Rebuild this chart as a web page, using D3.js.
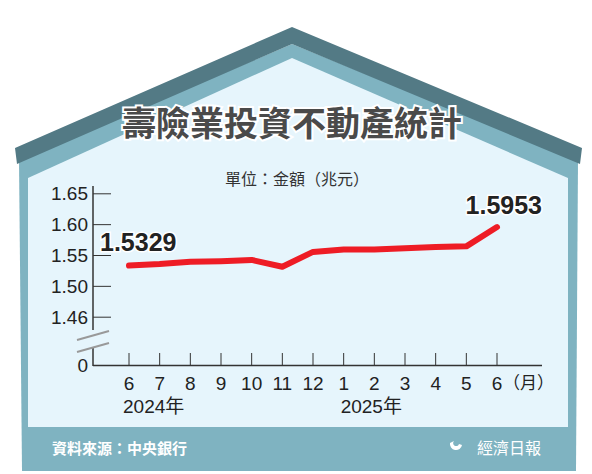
<!DOCTYPE html>
<html><head><meta charset="utf-8">
<script src="https://cdn.jsdelivr.net/npm/d3@7"></script>
<style>body{margin:0;background:#fff}text{font-family:"Liberation Sans","Noto Sans CJK TC",sans-serif}</style>
</head><body>
<script>
const months = ['6', '7', '8', '9', '10', '11', '12', '1', '2', '3', '4', '5', '6']
const values = [1.5329, 1.5353, 1.539, 1.540, 1.542, 1.531, 1.555, 1.559, 1.559, 1.561, 1.563, 1.564, 1.5953]
const tickVals = [1.45, 1.50, 1.55, 1.60, 1.65]
const tickLabels = ['1.46', '1.50', '1.55', '1.60', '1.65']

const svg = d3.select('body').append('svg').attr('width', 592).attr('height', 474)

// house
svg.append('polygon').attr('points', '19,160 292,44 578,160 576,471 22,471').attr('fill', '#7fb3c1')
svg.append('polygon').attr('points', '15,148 292,27 582,148 580,164 292,44 17,164').attr('fill', '#537a85')
svg.append('polygon').attr('points', '28,178 292,58 568,178 568,427 28,427').attr('fill', '#e6f5fc')

svg.append('text').attr('x', 292).attr('y', 136).attr('text-anchor', 'middle')
  .attr('font-size', 34).attr('font-weight', 'bold').attr('fill', '#4a4a4a')
  .attr('stroke', '#fff').attr('stroke-width', 4).attr('paint-order', 'stroke')
  .style('font-family', '"Noto Sans CJK TC"').text('壽險業投資不動產統計')
svg.append('text').attr('x', 297).attr('y', 185).attr('text-anchor', 'middle')
  .attr('font-size', 16).attr('fill', '#333').style('font-family', '"Noto Sans CJK TC"').text('單位：金額（兆元）')

const x = d3.scaleLinear().domain([0, months.length - 1]).range([129, 497])
const y = d3.scaleLinear().domain([1.45, 1.65]).range([316.7, 193.3])
const axisColor = '#333'

// y axis
const gy = svg.append('g').attr('transform', 'translate(93,0)')
gy.call(d3.axisRight(y).tickValues(tickVals).tickSize(18).tickFormat(''))
gy.select('.domain').remove()
gy.selectAll('line').attr('stroke', axisColor)
svg.append('line').attr('x1', 93).attr('x2', 93).attr('y1', 186).attr('y2', 366).attr('stroke', axisColor).attr('stroke-width', 1.5)
svg.selectAll('.ylab').data(tickVals).join('text').attr('class', 'ylab')
  .attr('x', 88).attr('y', d => y(d) + 7).attr('text-anchor', 'end')
  .attr('font-size', 19).attr('fill', '#222').text((d, i) => tickLabels[i])
svg.append('text').attr('x', 88).attr('y', 372).attr('text-anchor', 'end').attr('font-size', 19).attr('fill', '#222').text('0')
// axis break
svg.append('rect').attr('x', 85).attr('y', 330).attr('width', 16).attr('height', 18).attr('fill', '#e6f5fc')
;[0, 12].forEach(o => svg.append('line').attr('x1', 77).attr('x2', 109).attr('y1', 340 + o).attr('y2', 331 + o)
  .attr('stroke', '#999').attr('stroke-width', 2))

// x axis
svg.append('line').attr('x1', 93).attr('x2', 542).attr('y1', 365.5).attr('y2', 365.5).attr('stroke', axisColor).attr('stroke-width', 1.5)
svg.selectAll('.xt').data(months).join('line').attr('class', 'xt')
  .attr('x1', (d, i) => x(i)).attr('x2', (d, i) => x(i)).attr('y1', 353).attr('y2', 365).attr('stroke', axisColor)
svg.selectAll('.xl').data(months).join('text').attr('class', 'xl')
  .attr('x', (d, i) => x(i)).attr('y', 390).attr('text-anchor', 'middle')
  .attr('font-size', 19).attr('fill', '#222').text(d => d)
svg.append('text').attr('x', 503).attr('y', 389).attr('font-size', 17).attr('fill', '#222').style('font-family', '"Noto Sans CJK TC"').text('（月）')
svg.append('text').attr('x', x(0) - 6).attr('y', 413).attr('font-size', 19).attr('fill', '#222').text('2024年')
svg.append('text').attr('x', x(7) - 3).attr('y', 413).attr('font-size', 19).attr('fill', '#222').text('2025年')

// line
svg.append('path').datum(values)
  .attr('d', d3.line().x((d, i) => x(i)).y(d => y(d)))
  .attr('fill', 'none').attr('stroke', '#ee1c25').attr('stroke-width', 6)
  .attr('stroke-linecap', 'round').attr('stroke-linejoin', 'round')

svg.append('text').attr('x', 100).attr('y', 251).attr('font-size', 25).attr('font-weight', 'bold')
  .attr('fill', '#222').attr('stroke', '#fff').attr('stroke-width', 3).attr('paint-order', 'stroke').text(values[0].toFixed(4))
svg.append('text').attr('x', 542).attr('y', 214).attr('text-anchor', 'end').attr('font-size', 25).attr('font-weight', 'bold')
  .attr('fill', '#222').attr('stroke', '#fff').attr('stroke-width', 3).attr('paint-order', 'stroke').text(values[values.length - 1].toFixed(4))

// footer
svg.append('text').attr('x', 52).attr('y', 454).attr('font-size', 15).attr('font-weight', 'bold').attr('fill', '#fff')
  .style('font-family', '"Noto Sans CJK TC"').text('資料來源：中央銀行')
svg.append('path').attr('d', 'M450,443 a6,6 0 1,0 12,2 l-3,-1 a3,3 0 1,1 -5,-3 z').attr('fill', '#fff')
svg.append('text').attr('x', 541).attr('y', 454).attr('text-anchor', 'end').attr('font-size', 16).attr('fill', '#fff')
  .style('font-family', '"Noto Sans CJK TC"').text('經濟日報')
</script>
</body></html>
